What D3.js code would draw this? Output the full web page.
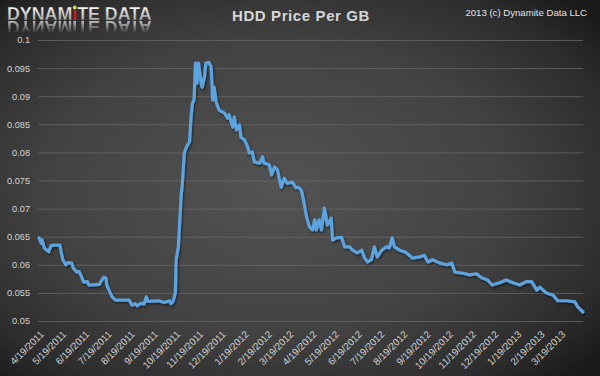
<!DOCTYPE html>
<html>
<head>
<meta charset="utf-8">
<script src="https://cdn.jsdelivr.net/npm/d3@7"></script>
<style>
  html, body { margin: 0; padding: 0; background: #2a2a2a; }
  svg { display: block; }
</style>
</head>
<body>
<svg id="chart" width="600" height="376"></svg>
<script>
// ---- data ----
const title = "HDD Price Per GB";
const copyright = "2013 (c) Dynamite Data LLC";
const logoWords = ["DYNAM", "ı", "TE DATA"];
const yTicks = [0.05, 0.055, 0.06, 0.065, 0.07, 0.075, 0.08, 0.085, 0.09, 0.095, 0.1];
const xTickLabels = ["4/19/2011","5/19/2011","6/19/2011","7/19/2011","8/19/2011","9/19/2011","10/19/2011","11/19/2011","12/19/2011","1/19/2012","2/19/2012","3/19/2012","4/19/2012","5/19/2012","6/19/2012","7/19/2012","8/19/2012","9/19/2012","10/19/2012","11/19/2012","12/19/2012","1/19/2013","2/19/2013","3/19/2013"];
const dates = ["2011-04-19","2011-04-22","2011-04-23","2011-04-26","2011-05-02","2011-05-05","2011-05-09","2011-05-17","2011-05-19","2011-05-21","2011-05-25","2011-05-28","2011-06-02","2011-06-04","2011-06-09","2011-06-12","2011-06-14","2011-06-18","2011-06-23","2011-06-25","2011-07-09","2011-07-11","2011-07-15","2011-07-18","2011-07-19","2011-07-22","2011-07-26","2011-07-31","2011-08-18","2011-08-22","2011-08-26","2011-08-29","2011-09-03","2011-09-07","2011-09-10","2011-09-12","2011-09-27","2011-10-04","2011-10-11","2011-10-13","2011-10-16","2011-10-19","2011-10-20","2011-10-23","2011-10-27","2011-10-28","2011-10-31","2011-11-03","2011-11-07","2011-11-09","2011-11-11","2011-11-13","2011-11-15","2011-11-17","2011-11-19","2011-11-23","2011-11-24","2011-11-27","2011-11-29","2011-12-03","2011-12-06","2011-12-08","2011-12-10","2011-12-13","2011-12-15","2011-12-17","2011-12-24","2011-12-28","2011-12-30","2012-01-04","2012-01-06","2012-01-09","2012-01-13","2012-01-15","2012-01-20","2012-01-24","2012-01-26","2012-01-30","2012-02-02","2012-02-09","2012-02-13","2012-02-15","2012-02-22","2012-02-25","2012-02-29","2012-03-04","2012-03-09","2012-03-13","2012-03-17","2012-03-24","2012-03-29","2012-04-01","2012-04-05","2012-04-08","2012-04-12","2012-04-16","2012-04-20","2012-04-23","2012-04-25","2012-04-29","2012-05-02","2012-05-06","2012-05-10","2012-05-15","2012-05-17","2012-05-22","2012-05-29","2012-06-02","2012-06-09","2012-06-13","2012-06-19","2012-06-25","2012-06-29","2012-07-03","2012-07-08","2012-07-12","2012-07-16","2012-07-22","2012-07-28","2012-08-01","2012-08-05","2012-08-08","2012-08-15","2012-08-22","2012-08-28","2012-09-01","2012-09-11","2012-09-17","2012-09-22","2012-09-28","2012-10-08","2012-10-17","2012-10-24","2012-10-28","2012-11-08","2012-11-17","2012-11-26","2012-12-03","2012-12-11","2012-12-17","2012-12-27","2013-01-05","2013-01-14","2013-01-23","2013-02-01","2013-02-08","2013-02-15","2013-02-19","2013-02-28","2013-03-09","2013-03-15","2013-03-27","2013-04-07","2013-04-11","2013-04-18"];
const prices = [0.0648,0.0638,0.0645,0.0630,0.0623,0.0634,0.0635,0.0635,0.0621,0.0609,0.0600,0.0604,0.0603,0.0594,0.0587,0.0588,0.0582,0.0569,0.0570,0.0564,0.0565,0.0570,0.0578,0.0576,0.0564,0.0555,0.0543,0.0537,0.0537,0.0528,0.0531,0.0527,0.0532,0.0530,0.0543,0.0535,0.0536,0.0533,0.0536,0.0531,0.0535,0.0550,0.0609,0.0632,0.0728,0.0738,0.0799,0.0810,0.0819,0.0863,0.0888,0.0893,0.0959,0.0923,0.0959,0.0920,0.0916,0.0934,0.0959,0.0960,0.0952,0.0893,0.0916,0.0888,0.0881,0.0875,0.0870,0.0861,0.0867,0.0845,0.0863,0.0840,0.0849,0.0827,0.0822,0.0810,0.0799,0.0801,0.0783,0.0781,0.0792,0.0781,0.0778,0.0760,0.0774,0.0769,0.0738,0.0754,0.0745,0.0747,0.0737,0.0738,0.0733,0.0715,0.0685,0.0667,0.0662,0.0680,0.0662,0.0680,0.0662,0.0701,0.0671,0.0683,0.0644,0.0648,0.0649,0.0632,0.0632,0.0626,0.0621,0.0626,0.0612,0.0605,0.0609,0.0632,0.0614,0.0626,0.0632,0.0630,0.0648,0.0632,0.0626,0.0623,0.0617,0.0612,0.0614,0.0617,0.0605,0.0609,0.0603,0.0600,0.0603,0.0587,0.0585,0.0582,0.0584,0.0577,0.0573,0.0564,0.0568,0.0573,0.0568,0.0564,0.0570,0.0570,0.0555,0.0560,0.0550,0.0546,0.0536,0.0536,0.0534,0.0525,0.0516];

// ---- drawing ----
const W = 600, H = 376;
const svg = d3.select("#chart");
const parse = d3.timeParse("%Y-%m-%d");
const tickParse = d3.timeParse("%m/%d/%Y");
const series = dates.map((d, i) => ({ date: parse(d), value: prices[i] }));
const FONT = "'Liberation Sans', Arial, sans-serif";

const defs = svg.append("defs");
const bg = defs.append("radialGradient").attr("id", "bg")
  .attr("cx", "46%").attr("cy", "50%").attr("r", "70%");
bg.append("stop").attr("offset", "0%").attr("stop-color", "#535353");
bg.append("stop").attr("offset", "55%").attr("stop-color", "#424242");
bg.append("stop").attr("offset", "85%").attr("stop-color", "#2c2c2c");
bg.append("stop").attr("offset", "100%").attr("stop-color", "#1a1a1a");

const logoGrad = defs.append("linearGradient").attr("id", "logoGrad")
  .attr("gradientUnits", "userSpaceOnUse")
  .attr("x1", 0).attr("y1", 7).attr("x2", 0).attr("y2", 20);
logoGrad.append("stop").attr("offset", "0%").attr("stop-color", "#ffffff");
logoGrad.append("stop").attr("offset", "100%").attr("stop-color", "#a8a8a8");

const fadeGrad = defs.append("linearGradient").attr("id", "fadeGrad")
  .attr("gradientUnits", "userSpaceOnUse")
  .attr("x1", 0).attr("y1", 21).attr("x2", 0).attr("y2", 33);
fadeGrad.append("stop").attr("offset", "0%").attr("stop-color", "#e8e8e8").attr("stop-opacity", 0.75);
fadeGrad.append("stop").attr("offset", "100%").attr("stop-color", "#e8e8e8").attr("stop-opacity", 0);

// mask holding the mirrored logo letters (for the reflection)
const reflMask = defs.append("mask").attr("id", "reflMask")
  .attr("maskUnits", "userSpaceOnUse")
  .attr("x", 0).attr("y", 0).attr("width", 220).attr("height", 45);
const mt = reflMask.append("text")
  .attr("x", 7).attr("y", 20)
  .attr("transform", "translate(0,41) scale(1,-1)")
  .attr("font-family", FONT).attr("font-weight", "bold").attr("font-size", 17.8)
  .attr("fill", "#fff");
logoWords.forEach(w => mt.append("tspan").text(w));

const shadow = defs.append("filter").attr("id", "shadow")
  .attr("x", "-5%").attr("y", "-5%").attr("width", "110%").attr("height", "110%");
shadow.append("feDropShadow").attr("dx", 1).attr("dy", 1.5).attr("stdDeviation", 1.2)
  .attr("flood-color", "#000").attr("flood-opacity", 0.55);

svg.append("rect").attr("width", W).attr("height", H).attr("fill", "url(#bg)");

const x = d3.scaleTime()
  .domain([parse("2011-04-19"), parse("2013-04-18")])
  .range([39, 583]);
const y = d3.scaleLinear().domain([0.05, 0.1]).range([321, 40]);

// gridlines + y labels
const yAxis = d3.axisLeft(y).tickValues(yTicks)
  .tickSize(-(583 - 38)).tickPadding(8)
  .tickFormat(d => d3.format("")(+d.toFixed(3)));
const yg = svg.append("g").attr("transform", "translate(38,0)").call(yAxis);
yg.select(".domain").remove();
yg.selectAll(".tick line").attr("stroke", "#6a6a6a").attr("stroke-opacity", 0.75).attr("stroke-width", 1);
yg.selectAll(".tick text")
  .attr("fill", "#d4d4d4")
  .attr("font-family", FONT)
  .attr("font-size", 9.2)
  .attr("x", -8);

// x axis labels
const xTickDates = xTickLabels.map(t => tickParse(t));
const xAxis = d3.axisBottom(x).tickValues(xTickDates).tickSize(0)
  .tickFormat((d, i) => xTickLabels[i]);
const xg = svg.append("g").attr("transform", "translate(0,321)").call(xAxis);
xg.select(".domain").remove();
xg.selectAll(".tick text")
  .attr("fill", "#d4d4d4")
  .attr("font-family", FONT)
  .attr("font-size", 9.8)
  .attr("text-anchor", "end")
  .attr("dy", 0).attr("y", 0)
  .attr("transform", "translate(5,14) rotate(-45)");

// line
const line = d3.line().x(d => x(d.date)).y(d => y(d.value)).curve(d3.curveLinear);
svg.append("path").datum(series)
  .attr("d", line)
  .attr("fill", "none")
  .attr("stroke", "#5ba3e0")
  .attr("stroke-width", 3.2)
  .attr("stroke-linejoin", "round")
  .attr("stroke-linecap", "round")
  .attr("filter", "url(#shadow)");

// title
svg.append("text")
  .attr("x", 301).attr("y", 21)
  .attr("text-anchor", "middle")
  .attr("fill", "#d6d6d6")
  .attr("font-family", FONT)
  .attr("font-weight", "bold")
  .attr("font-size", 15)
  .attr("letter-spacing", 0.6)
  .text(title);

// copyright
svg.append("text")
  .attr("x", 587).attr("y", 16)
  .attr("text-anchor", "end")
  .attr("fill", "#e2e2e2")
  .attr("font-family", FONT)
  .attr("font-size", 9.6)
  .text(copyright);

// logo reflection: faded rect seen through the mirrored letters
svg.append("rect")
  .attr("x", 0).attr("y", 20.5).attr("width", 200).attr("height", 14)
  .attr("fill", "url(#fadeGrad)")
  .attr("mask", "url(#reflMask)");

// logo
const main = svg.append("text")
  .attr("x", 7).attr("y", 20)
  .attr("font-family", FONT)
  .attr("font-weight", "bold")
  .attr("font-size", 17.8)
  .attr("fill", "url(#logoGrad)")
  .attr("stroke", "#3a3a3a").attr("stroke-width", 0.3);
logoWords.forEach((w, i) => {
  const ts = main.append("tspan").text(w);
  if (i === 1) ts.attr("fill", "#d8151b");
});
try {
  const ext = main.node().getExtentOfChar(5);
  svg.append("circle")
    .attr("cx", ext.x + ext.width / 2)
    .attr("cy", 7.5)
    .attr("r", 1.9)
    .attr("fill", "#c8e23a");
} catch (e) {}
</script>
</body>
</html>
